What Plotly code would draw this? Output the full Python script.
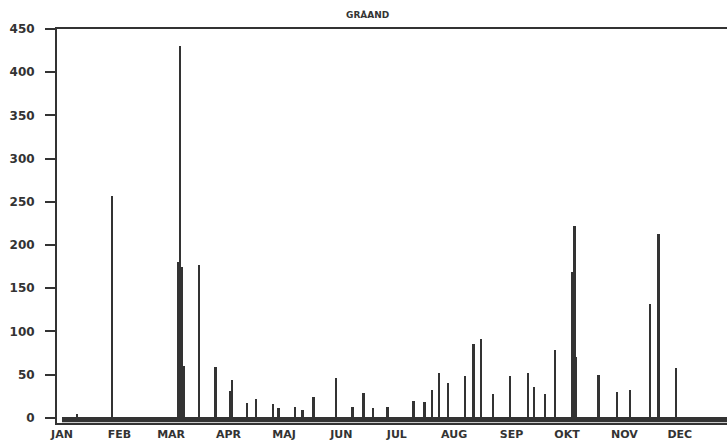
import plotly.graph_objects as go

# Day of year (0 = 1 Jan) and counts
days = [8, 27, 63, 64, 65, 66, 74, 83, 91, 92, 100, 105, 114, 117, 126, 130, 136, 148,
        157, 163, 168, 176, 190, 196, 200, 204, 208.5, 218, 222.5, 226.5, 233, 242,
        252, 255, 261, 266.5, 276, 277, 278, 290, 300, 307, 318, 322.5, 332]
counts = [5, 257, 180, 430, 175, 60, 177, 59, 31, 44, 17, 22, 16, 11, 12, 9, 24, 46,
          13, 29, 11, 13, 20, 18, 32, 52, 40, 48, 86, 91, 27, 48,
          52, 36, 27, 79, 169, 222, 70, 50, 30, 32, 132, 213, 58]

month_starts = [0, 31, 59, 90, 120, 151, 181, 212, 243, 273, 304, 334]
month_labels = ["JAN", "FEB", "MAR", "APR", "MAJ", "JUN", "JUL", "AUG", "SEP", "OKT", "NOV", "DEC"]
y_ticks = [0, 50, 100, 150, 200, 250, 300, 350, 400, 450]

ink = "#333333"

fig = go.Figure()
fig.add_trace(go.Bar(x=days, y=counts, width=1.2, marker=dict(color=ink, line=dict(width=0)),
                     showlegend=False))

# thick baseline band
fig.add_shape(type="rect", xref="x", yref="y", x0=0, x1=365, y0=-5, y1=1,
              fillcolor=ink, line=dict(width=0), layer="above")

fig.update_layout(
    width=727, height=441,
    margin=dict(l=57, r=0, t=29, b=18, autoexpand=False),
    paper_bgcolor="white", plot_bgcolor="white",
    bargap=0,
    annotations=[dict(text="GRÅAND", x=(367 - 57) / 670, y=1 + (29 - 15) / 394,
                      xref="paper", yref="paper", showarrow=False,
                      font=dict(family="DejaVu Sans", size=9, color=ink, weight="bold"),
                      xanchor="center", yanchor="middle")],
)

fig.update_xaxes(range=[-2.7, 359.5], tickmode="array", tickvals=month_starts,
                 ticktext=month_labels, ticks="", showgrid=False, zeroline=False,
                 showline=True, mirror=True, linecolor=ink, linewidth=2, automargin=False,
                 tickfont=dict(family="DejaVu Sans", size=11, color=ink, weight="bold"))
fig.update_yaxes(range=[-6, 450], tickmode="array", tickvals=y_ticks, ticks="outside",
                 ticklen=10, tickwidth=2, tickcolor=ink, showgrid=False, zeroline=False,
                 showline=True, linecolor=ink, linewidth=2, ticklabelstandoff=8,
                 automargin=False,
                 tickfont=dict(family="DejaVu Sans", size=12, color=ink, weight="bold"))

fig.write_html("out.html", config={"displayModeBar": False},
               post_script="document.body.style.margin='0';document.body.style.overflow='hidden';")
